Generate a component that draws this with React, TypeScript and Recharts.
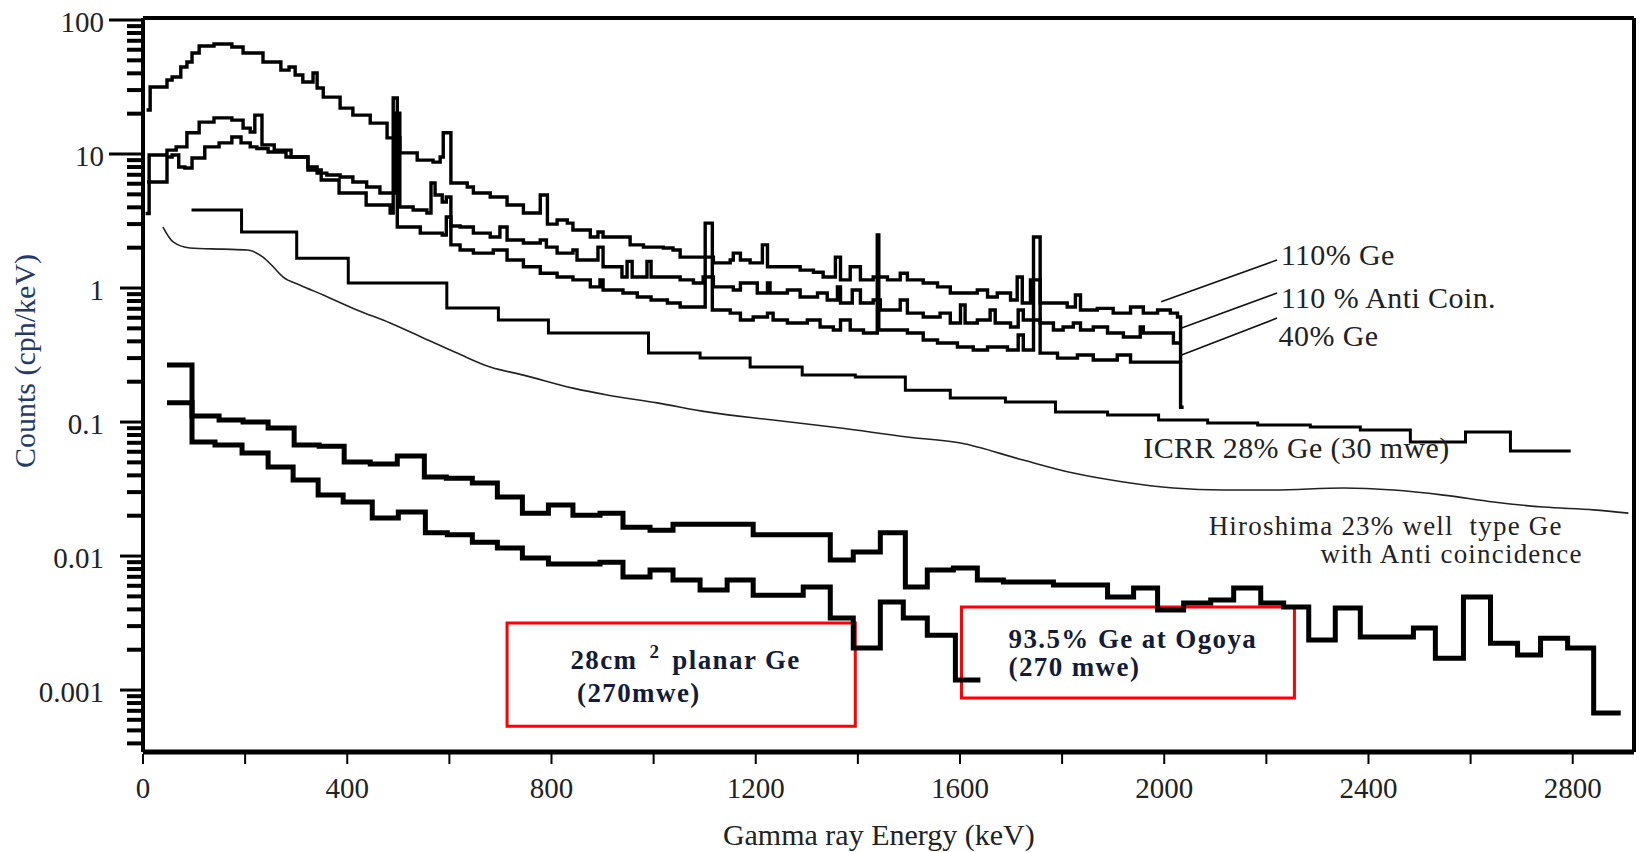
import React from "react";
import {
  ComposedChart,
  Line,
  XAxis,
  YAxis,
  ReferenceLine,
  ReferenceArea,
  ReferenceDot,
} from "recharts";

type Pt = [number, number];

const FONT = "'Liberation Serif', 'Times New Roman', serif";

const X_MAX = 2920;
const Y_MIN = 0.000345;
const Y_MAX = 103.5;

const X_TICKS = [0, 200, 400, 600, 800, 1000, 1200, 1400, 1600, 1800, 2000, 2200, 2400, 2600, 2800];
const X_LABELS = [0, 400, 800, 1200, 1600, 2000, 2400, 2800];
const Y_DECADES = [0.001, 0.01, 0.1, 1, 10, 100];
const Y_MINOR_STEPS = [2, 3, 4, 5, 6, 7, 8, 9];

const Y_TICKS = [
  ...Y_DECADES,
  ...[0.0001, 0.001, 0.01, 0.1, 1, 10].flatMap((d) =>
    Y_MINOR_STEPS.map((m) => Number((m * d).toPrecision(3)))
  ),
].filter((v) => v >= Y_MIN && v <= Y_MAX);

// [keV, cph/keV]
const GE110: Pt[] = [
  [7, 21.3], [14, 31.6], [47, 35.7], [57, 37.6], [74, 44.6], [86, 48.6], [96, 56.7], [110, 64.0],
  [139, 66.2], [174, 62.9], [196, 56.7], [235, 48.6], [270, 42.3], [286, 44.6], [298, 38.9],
  [313, 34.5], [333, 40.2], [341, 31.1], [353, 26.6], [386, 22.0], [411, 19.5], [445, 17.0],
  [478, 13.2], [503, 10.2], [537, 9.0], [568, 8.7], [582, 9.5], [588, 14.4], [603, 6.08],
  [635, 5.68], [647, 5.12], [680, 4.78], [713, 4.16], [745, 3.63], [778, 4.94], [792, 3.0],
  [811, 3.22], [831, 3.05], [842, 2.71], [876, 2.4], [891, 2.62], [901, 2.4], [954, 2.1],
  [980, 2.02], [1019, 1.99], [1038, 1.92], [1052, 1.7], [1117, 1.54], [1150, 1.62], [1156, 1.82],
  [1170, 1.62], [1189, 1.54], [1213, 2.1], [1223, 1.44], [1287, 1.36], [1313, 1.31], [1332, 1.21],
  [1356, 1.7], [1366, 1.15], [1385, 1.44], [1405, 1.15], [1430, 1.21], [1458, 1.15], [1483, 1.29],
  [1497, 1.15], [1528, 1.09], [1556, 1.02], [1581, 0.918], [1634, 0.966], [1654, 0.857],
  [1673, 0.918], [1699, 0.814], [1712, 1.21], [1722, 0.773], [1738, 1.15], [1757, 0.773],
  [1810, 0.722], [1826, 0.887], [1836, 0.686], [1869, 0.705], [1900, 0.65], [1934, 0.722],
  [1959, 0.65], [1987, 0.686], [2012, 0.65], [2026, 0.608], [2032, 0.129], [2038, 0.129],
];

const ANTI110: Pt[] = [
  [5, 3.6], [12, 9.84], [47, 10.7], [65, 11.3], [86, 14.4], [110, 17.3], [139, 18.6], [174, 17.9],
  [196, 15.6], [210, 14.6], [219, 19.5], [233, 11.7], [257, 10.7], [290, 9.5], [323, 8.0],
  [341, 7.2], [360, 6.97], [386, 6.73], [411, 6.18], [438, 5.67], [464, 5.12], [494, 20.2],
  [503, 4.02], [529, 3.82], [556, 3.63], [564, 6.08], [572, 4.94], [586, 4.38], [594, 4.78],
  [603, 2.9], [621, 2.85], [647, 2.57], [680, 2.4], [699, 2.85], [713, 2.28], [745, 2.17],
  [778, 2.28], [790, 2.02], [811, 1.82], [842, 1.92], [850, 1.62], [891, 2.02], [901, 1.44],
  [938, 1.21], [948, 1.58], [958, 1.21], [987, 1.58], [995, 1.21], [1052, 1.15], [1078, 1.09],
  [1097, 1.21], [1117, 1.02], [1156, 0.966], [1170, 1.09], [1203, 0.918], [1223, 1.09],
  [1228, 0.918], [1262, 0.966], [1287, 0.857], [1321, 0.918], [1340, 0.814], [1360, 1.02],
  [1366, 0.773], [1389, 0.966], [1405, 0.773], [1430, 0.814], [1444, 0.686], [1483, 0.814],
  [1497, 0.65], [1528, 0.608], [1561, 0.65], [1581, 0.548], [1601, 0.747], [1610, 0.548],
  [1634, 0.577], [1659, 0.686], [1669, 0.548], [1699, 0.512], [1714, 0.686], [1724, 0.577],
  [1757, 0.548], [1783, 0.486], [1802, 0.512], [1822, 0.548], [1836, 0.486], [1861, 0.512],
  [1889, 0.462], [1920, 0.431], [1953, 0.512], [1959, 0.462], [2006, 0.462], [2018, 0.389],
  [2032, 0.389],
];

const GE40: Pt[] = [
  [8, 6.18], [47, 9.5], [57, 9.84], [70, 8.0], [82, 7.87], [96, 9.33], [121, 11.3], [149, 12.1],
  [174, 13.4], [192, 12.1], [210, 11.3], [223, 11.0], [245, 10.35], [280, 9.5], [323, 7.6],
  [349, 6.4], [384, 5.12], [437, 4.16], [484, 3.63], [490, 26.2], [498, 2.85], [543, 2.57],
  [586, 2.49], [594, 3.39], [603, 2.1], [621, 1.92], [647, 1.82], [686, 1.92], [713, 1.62],
  [745, 1.44], [778, 1.29], [811, 1.21], [842, 1.15], [876, 1.02], [895, 1.15], [901, 0.966],
  [940, 0.918], [968, 0.857], [995, 0.814], [1027, 0.773], [1052, 0.722], [1101, 3.05],
  [1115, 0.686], [1150, 0.65], [1170, 0.577], [1195, 0.608], [1223, 0.65], [1234, 0.577],
  [1262, 0.548], [1301, 0.577], [1326, 0.512], [1352, 0.486], [1366, 0.577], [1385, 0.486],
  [1411, 0.462], [1438, 2.49], [1441, 0.486], [1497, 0.462], [1528, 0.409], [1556, 0.389],
  [1595, 0.363], [1626, 0.345], [1654, 0.363], [1693, 0.345], [1714, 0.446], [1724, 0.345],
  [1744, 2.4], [1757, 0.327], [1791, 0.3], [1830, 0.316], [1861, 0.29], [1908, 0.316],
  [1934, 0.28], [2032, 0.277],
];

const ICRR28: Pt[] = [
  [95, 3.82], [193, 2.62], [301, 1.67], [402, 1.09], [595, 0.71], [696, 0.577], [794, 0.462],
  [990, 0.327], [1091, 0.3], [1189, 0.258], [1291, 0.224], [1395, 0.217], [1493, 0.173],
  [1581, 0.151], [1689, 0.141], [1787, 0.119], [1889, 0.113], [1989, 0.1035], [2085, 0.0984],
  [2183, 0.095], [2286, 0.0918], [2384, 0.0871], [2482, 0.0709], [2590, 0.0841], [2678, 0.0608],
  [2796, 0.0608],
];

const HIROSHIMA23: Pt[] = [
  [39, 2.85], [59, 2.21], [92, 1.99], [157, 1.95], [204, 1.92], [235, 1.7], [255, 1.44],
  [274, 1.21], [308, 1.05], [353, 0.887], [419, 0.686], [484, 0.548], [549, 0.424], [615, 0.327],
  [680, 0.257], [745, 0.224], [842, 0.179], [909, 0.159], [1007, 0.139], [1105, 0.119],
  [1234, 0.1035], [1366, 0.0902], [1497, 0.0773], [1601, 0.0697], [1724, 0.052], [1822, 0.0416],
  [1920, 0.0357], [2018, 0.0322], [2116, 0.0311], [2214, 0.0311], [2351, 0.0322], [2449, 0.0311],
  [2547, 0.0285], [2645, 0.0253], [2743, 0.0232], [2841, 0.0221], [2909, 0.0209],
];

const OGOYA935: Pt[] = [
  [47, 0.266], [96, 0.111], [149, 0.1035], [196, 0.1], [245, 0.0902], [296, 0.0673], [345, 0.066],
  [394, 0.0503], [445, 0.0486], [498, 0.0557], [551, 0.0389], [594, 0.038], [645, 0.0351],
  [694, 0.0276], [743, 0.0209], [794, 0.024], [842, 0.0202], [895, 0.0209], [940, 0.0164],
  [993, 0.0156], [1038, 0.0173], [1195, 0.0144], [1346, 0.00933], [1391, 0.0107], [1444, 0.0149],
  [1493, 0.00587], [1536, 0.00786], [1587, 0.00813], [1634, 0.00662], [1685, 0.0064],
  [1783, 0.00608], [1889, 0.00494], [1940, 0.00577], [1987, 0.00396], [2038, 0.00446],
  [2091, 0.0047], [2136, 0.00577], [2189, 0.00446], [2234, 0.00416], [2283, 0.00236],
  [2335, 0.0041], [2384, 0.00249], [2488, 0.0029], [2531, 0.00173], [2586, 0.00494],
  [2639, 0.00224], [2692, 0.00183], [2737, 0.00244], [2790, 0.00206], [2841, 0.000673],
  [2894, 0.000673],
];

const PLANAR28: Pt[] = [
  [47, 0.139], [96, 0.0709], [141, 0.0673], [194, 0.0587], [245, 0.0462], [294, 0.0369],
  [343, 0.0285], [392, 0.0253], [449, 0.0192], [500, 0.0213], [553, 0.0149], [596, 0.0144],
  [645, 0.0127], [694, 0.0115], [743, 0.00966], [794, 0.00871], [895, 0.009], [940, 0.00697],
  [993, 0.00786], [1038, 0.00662], [1091, 0.00558], [1144, 0.00662], [1195, 0.0051],
  [1293, 0.00587], [1346, 0.00345], [1391, 0.00206], [1444, 0.00454], [1489, 0.00345],
  [1536, 0.00257], [1591, 0.00119], [1640, 0.00119],
];

const rows = (pts: Pt[]) => pts.map(([e, v]) => ({ e, v }));

const isDecade = (v: number) => Y_DECADES.some((d) => Math.abs(v / d - 1) < 1e-6);

function YTick(props: any) {
  const { x, y, payload } = props;
  const v = payload.value;
  const major = isDecade(v);
  const len = major ? (v >= 10 ? 34 : 23) : 16;
  return (
    <g>
      <line x1={x - len} x2={x} y1={y} y2={y} stroke="#000" strokeWidth={major ? 3 : 4} />
      {major && (
        <text x={x - 39} y={y + 12} textAnchor="end" fontFamily={FONT} fontSize={29} fill="#222">
          {String(v)}
        </text>
      )}
    </g>
  );
}

function XTick(props: any) {
  const { x, y, payload } = props;
  const v = payload.value;
  return (
    <g>
      <line x1={x} x2={x} y1={y + 2} y2={y + 12} stroke="#000" strokeWidth={2} />
      {X_LABELS.includes(v) && (
        <text x={x} y={y + 46} textAnchor="middle" fontFamily={FONT} fontSize={29} fill="#222">
          {v}
        </text>
      )}
    </g>
  );
}

function YTitle(props: any) {
  const vb = props.viewBox;
  const cx = vb.x + 35;
  const cy = vb.y + vb.height / 2 - 24;
  return (
    <text
      transform={`translate(${cx},${cy}) rotate(-90)`}
      textAnchor="middle"
      fontFamily={FONT}
      fontSize={30}
      fill="#233a66"
    >
      Counts (cph/keV)
    </text>
  );
}

// x-axis title anchor (centre of baseline), placed below the plot in data space
const X_TITLE = { e: 1441, v: 0.0000698, text: "Gamma ray Energy (keV)" };

// annotation anchors: left end of the text baseline, in data coordinates
const NOTES = [
  { e: 2228, v: 1.49, text: "110% Ge", size: 30, ls: 0.4 },
  { e: 2228, v: 0.71, text: "110 % Anti Coin.", size: 30, ls: 0.4 },
  { e: 2224, v: 0.369, text: "40% Ge", size: 30, ls: 0.4 },
  { e: 1959, v: 0.0538, text: "ICRR 28% Ge (30 mwe)", size: 30, ls: 0.4 },
  { e: 2087, v: 0.01435, text: "Hiroshima 23% well  type Ge", size: 27, ls: 1.2 },
  { e: 2306, v: 0.00887, text: "with Anti coincidence", size: 27, ls: 1.2 },
];

const BOLD_NOTES = [
  { e: 1695, v: 0.00206, text: "93.5% Ge at Ogoya" },
  { e: 1695, v: 0.00127, text: "(270 mwe)" },
  { e: 850, v: 0.000813, text: "(270mwe)" },
];

const LEADERS = [
  [{ x: 1994, y: 0.791 }, { x: 2221, y: 1.62 }],
  [{ x: 2034, y: 0.503 }, { x: 2221, y: 0.918 }],
  [{ x: 2034, y: 0.316 }, { x: 2221, y: 0.597 }],
];

const BOXES = [
  { x1: 713, x2: 1395, y1: 0.000538, y2: 0.00316 },
  { x1: 1603, x2: 2255, y1: 0.000871, y2: 0.00416 },
];

const lineProps = {
  dataKey: "v",
  dot: false,
  activeDot: false,
  isAnimationActive: false,
  stroke: "#000",
  strokeLinejoin: "miter" as const,
};

export default function App() {
  return (
    <div style={{ position: "absolute", left: 0, top: 0, width: 1643, height: 852, background: "#fff" }}>
      <ComposedChart width={1643} height={852} margin={{ top: 18, right: 9, bottom: 0, left: 0 }}>
        <XAxis
          type="number"
          dataKey="e"
          domain={[0, X_MAX]}
          allowDataOverflow
          ticks={X_TICKS}
          interval={0}
          tick={<XTick />}
          tickLine={false}
          tickSize={0}
          tickMargin={0}
          axisLine={{ stroke: "#000", strokeWidth: 5 }}
          height={100}
        />
        <YAxis
          type="number"
          scale="log"
          domain={[Y_MIN, Y_MAX]}
          allowDataOverflow
          ticks={Y_TICKS}
          interval={0}
          tick={<YTick />}
          tickLine={false}
          tickSize={0}
          tickMargin={0}
          axisLine={{ stroke: "#000", strokeWidth: 4 }}
          width={143}
          label={<YTitle />}
        />
        <ReferenceLine y={Y_MAX} stroke="#000" strokeWidth={4} />
        <ReferenceLine x={X_MAX} stroke="#000" strokeWidth={4} />

        <Line {...lineProps} data={rows(GE110)} type="stepAfter" strokeWidth={3.4} />
        <Line {...lineProps} data={rows(ANTI110)} type="stepAfter" strokeWidth={3.4} />
        <Line {...lineProps} data={rows(GE40)} type="stepAfter" strokeWidth={3.4} />
        <Line {...lineProps} data={rows(ICRR28)} type="stepAfter" strokeWidth={3} />
        <Line {...lineProps} data={rows(HIROSHIMA23)} type="monotone" strokeWidth={1.6} stroke="#222" />
        <Line {...lineProps} data={rows(OGOYA935)} type="stepAfter" strokeWidth={5} />
        <Line {...lineProps} data={rows(PLANAR28)} type="stepAfter" strokeWidth={5} />

        {LEADERS.map((seg, i) => (
          <ReferenceLine key={`l${i}`} segment={seg} stroke="#111" strokeWidth={1.6} ifOverflow="visible" />
        ))}

        {BOXES.map((b, i) => (
          <ReferenceArea
            key={`b${i}`}
            x1={b.x1}
            x2={b.x2}
            y1={b.y1}
            y2={b.y2}
            fill="none"
            fillOpacity={0}
            stroke="#ff0000"
            strokeWidth={3}
            ifOverflow="visible"
          />
        ))}

        {NOTES.map((n, i) => (
          <ReferenceDot
            key={`n${i}`}
            x={n.e}
            y={n.v}
            r={0}
            ifOverflow="visible"
            shape={(p: any) => (
              <text
                x={p.cx}
                y={p.cy}
                fontFamily={FONT}
                fontSize={n.size}
                letterSpacing={n.ls}
                fill="#222"
                style={{ whiteSpace: "pre" }}
              >
                {n.text}
              </text>
            )}
          />
        ))}

        {BOLD_NOTES.map((n, i) => (
          <ReferenceDot
            key={`bn${i}`}
            x={n.e}
            y={n.v}
            r={0}
            ifOverflow="visible"
            shape={(p: any) => (
              <text
                x={p.cx}
                y={p.cy}
                fontFamily={FONT}
                fontSize={27}
                letterSpacing={1.4}
                fontWeight="bold"
                fill="#141c33"
              >
                {n.text}
              </text>
            )}
          />
        ))}

        <ReferenceDot
          x={837}
          y={0.00144}
          r={0}
          ifOverflow="visible"
          shape={(p: any) => (
            <text x={p.cx} y={p.cy} fontFamily={FONT} fontSize={27} letterSpacing={1.4} fontWeight="bold" fill="#141c33">
              28cm
              <tspan dx={12} dy={-11} fontSize={19}>2</tspan>
              <tspan dx={12} dy={11}>planar Ge</tspan>
            </text>
          )}
        />

        <ReferenceDot
          x={X_TITLE.e}
          y={X_TITLE.v}
          r={0}
          ifOverflow="visible"
          shape={(p: any) => (
            <text x={p.cx} y={p.cy} textAnchor="middle" fontFamily={FONT} fontSize={30} fill="#222">
              {X_TITLE.text}
            </text>
          )}
        />
      </ComposedChart>
    </div>
  );
}
